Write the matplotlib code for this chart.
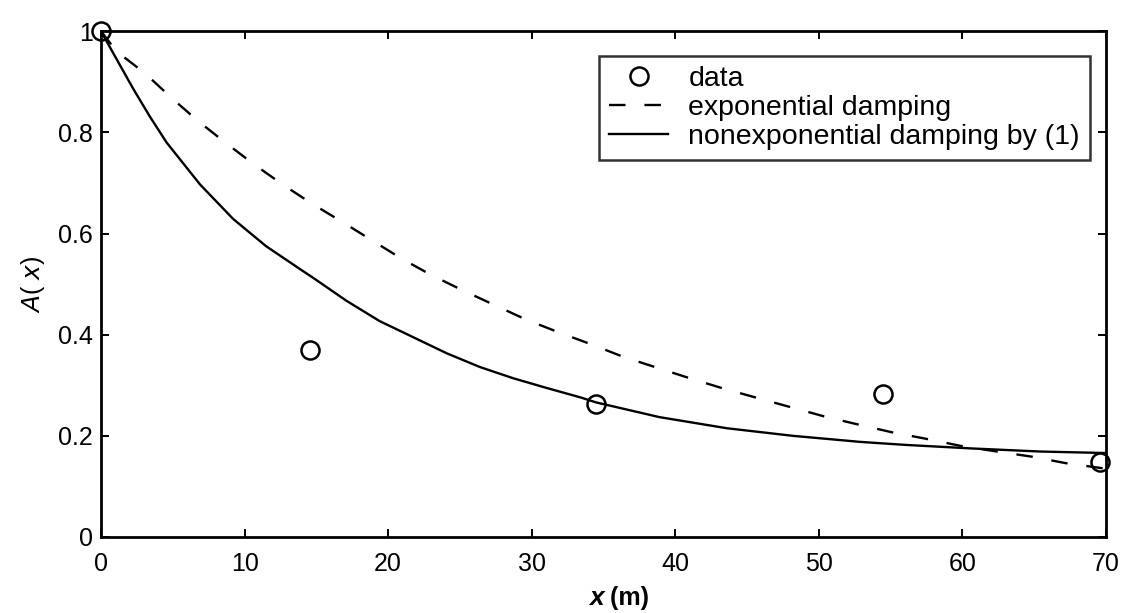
import numpy as np
import matplotlib.pyplot as plt

plt.rcParams['font.family'] = ['Liberation Sans', 'DejaVu Sans']

# measured amplitudes
data_x = [0.0, 14.55, 34.5, 54.5, 69.6]
data_y = [1.0, 0.370, 0.262, 0.282, 0.148]

# exponential damping curve
exp_x = [0.0, 1.09, 3.06, 4.92, 6.78, 8.70, 10.65, 12.7, 14.7, 16.8, 18.85, 20.9, 23.0,
         25.1, 27.3, 29.6, 31.85, 34.05, 36.4, 38.7, 41.0, 43.3, 45.7, 48.0, 50.3,
         52.5, 55.1, 57.5, 59.9, 62.4, 64.8, 67.2, 70.0]
exp_y = [1.0, 0.960, 0.917, 0.868, 0.822, 0.779, 0.737, 0.696, 0.659, 0.623, 0.587, 0.551, 0.518,
         0.489, 0.460, 0.430, 0.405, 0.382, 0.356, 0.335, 0.314, 0.294, 0.275, 0.257, 0.239,
         0.224, 0.207, 0.194, 0.180, 0.169, 0.159, 0.146, 0.135]

# nonexponential damping by (1)
nonexp_x = [0.0, 0.63, 2.25, 3.41, 4.57, 6.9, 9.2, 11.5, 13.9, 14.8, 17.1, 19.4, 21.75,
            24.1, 26.4, 28.7, 31.0, 33.4, 34.5, 38.9, 43.6, 48.2, 52.9, 56.1, 60.7,
            65.4, 70.0]
nonexp_y = [1.0, 0.968, 0.886, 0.831, 0.780, 0.697, 0.629, 0.575, 0.529, 0.512, 0.467, 0.427, 0.395,
            0.363, 0.336, 0.314, 0.295, 0.276, 0.266, 0.237, 0.215, 0.200, 0.188, 0.182, 0.175,
            0.169, 0.166]

fig = plt.figure(figsize=(11.26, 6.13), dpi=100)
ax = fig.add_axes([0.0897, 0.124, 0.8925, 0.825])

ax.plot(data_x, data_y, 'o', mfc='none', mec='black', mew=1.8, ms=13, label='data', clip_on=False, zorder=3)
ax.plot(exp_x, exp_y, '--', color='black', lw=1.7, dashes=(7, 8), label='exponential damping')
ax.plot(nonexp_x, nonexp_y, '-', color='black', lw=1.7, label='nonexponential damping by (1)')

ax.set_xlim(0, 70)
ax.set_ylim(0, 1)
ax.set_xticks(np.arange(0, 71, 10))
ax.set_yticks([0, 0.2, 0.4, 0.6, 0.8, 1])
ax.set_yticklabels(['0', '0.2', '0.4', '0.6', '0.8', '1'])
ax.tick_params(direction='in', length=6, width=1.4, labelsize=18, top=True, right=True)
ax.tick_params(axis='x', pad=11)
ax.tick_params(axis='y', pad=6)
for s in ax.spines.values():
    s.set_linewidth(2.0)

ax.text(0.5, -0.121, 'x', transform=ax.transAxes, fontsize=19, fontweight='bold', style='italic',
        ha='right', va='center')
ax.text(0.5, -0.121, ' (m)', transform=ax.transAxes, fontsize=18, fontweight='bold',
        ha='left', va='center')
ax.set_ylabel(r'$A$( $x$)', fontsize=18, labelpad=8)

leg = ax.legend(loc='upper right', bbox_to_anchor=(0.984, 0.952), fontsize=20.5, frameon=True,
                fancybox=False, edgecolor='black', handlelength=2.1, borderpad=0.35,
                labelspacing=0.12, handletextpad=0.7, borderaxespad=0)
leg.get_frame().set_linewidth(1.8)

fig.savefig('out.png', dpi=100)
